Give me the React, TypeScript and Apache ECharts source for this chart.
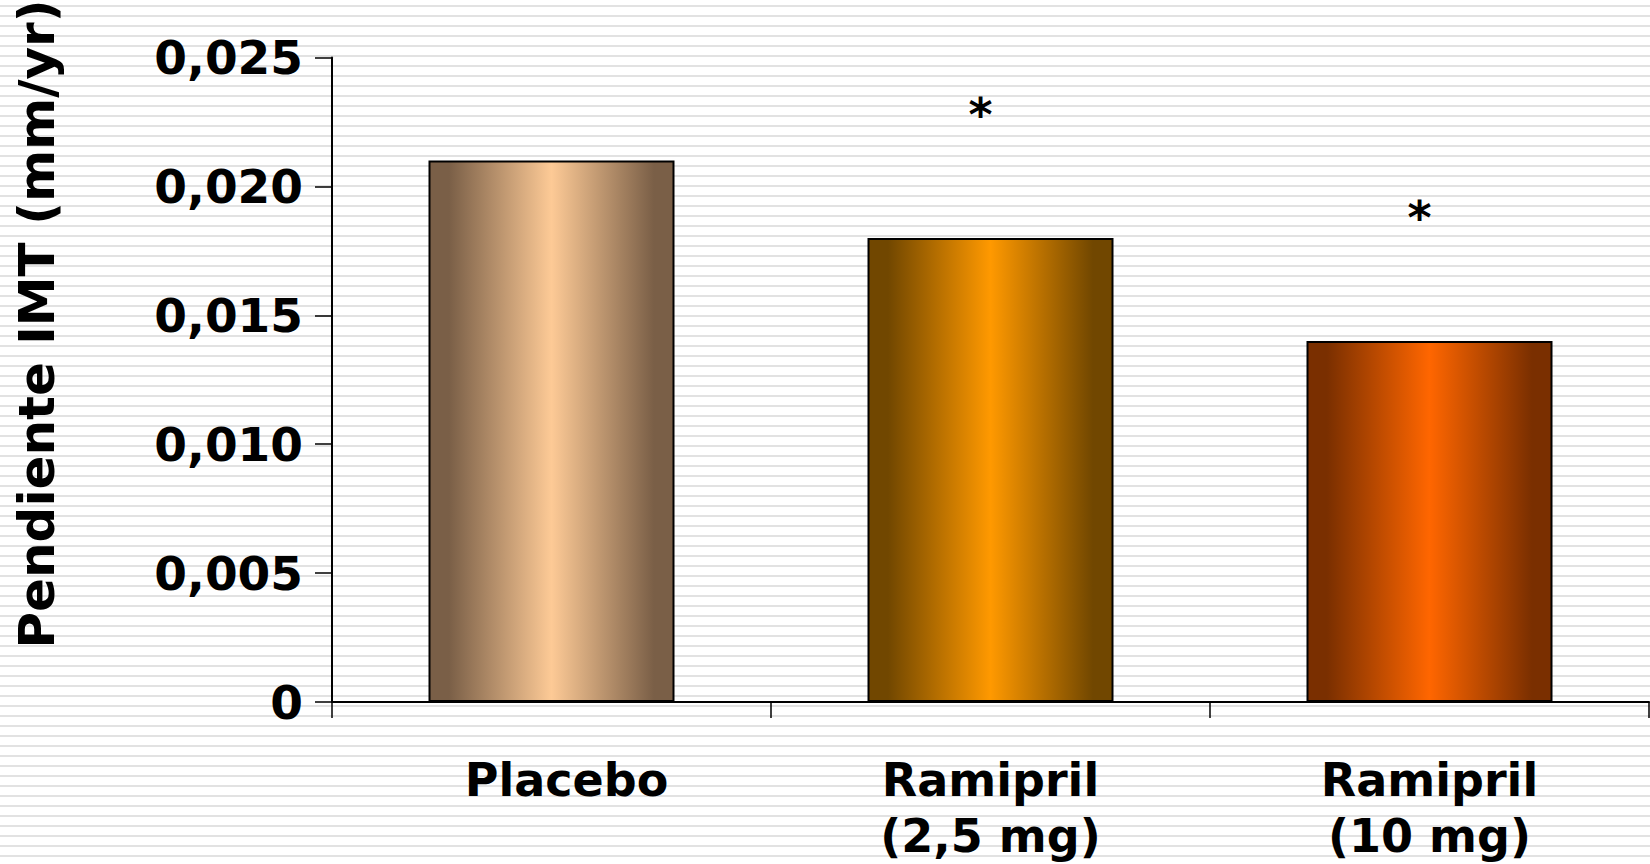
import React, { useEffect, useRef } from "react";
import * as echarts from "echarts";

// Treatment groups and mean IMT progression slope (mm/yr)
const categories = ["Placebo", "Ramipril\n(2,5 mg)", "Ramipril\n(10 mg)"];
const slopes = [0.021, 0.018, 0.014];
const significance = ["", "*", "*"];
const yTicks = { min: 0, max: 0.025, interval: 0.005 };
const yTitle = "Pendiente IMT (mm/yr)";

// Edge / centre colours of each cylinder-like bar
const barEdges = ["#7a5f47", "#714700", "#7a2f00"];
const barCentres = ["#fdca96", "#ff9900", "#ff6600"];

const FONT = "DejaVu Sans";

function formatTick(v: number): string {
  if (v === 0) return "0";
  return v.toFixed(3).replace(".", ",");
}

export default function App() {
  const ref = useRef<HTMLDivElement>(null);

  useEffect(() => {
    if (!ref.current) return;
    const chart = echarts.init(ref.current, undefined, { renderer: "svg" });

    const data = slopes.map((v, i) => ({
      value: v,
      itemStyle: {
        color: new echarts.graphic.LinearGradient(0, 0, 1, 0, [
          { offset: 0, color: barEdges[i] },
          { offset: 0.08, color: barEdges[i] },
          { offset: 0.5, color: barCentres[i] },
          { offset: 0.92, color: barEdges[i] },
          { offset: 1, color: barEdges[i] },
        ]),
      },
    }));

    chart.setOption({
      animation: false,
      backgroundColor: "transparent",
      grid: { left: 332, right: 1, top: 57.5, bottom: 161 },
      xAxis: {
        type: "category",
        data: categories.map((c, i) =>
          i === 0 ? { value: c, textStyle: { padding: [0, 0, 0, 30] } } : c
        ),
        axisLine: { lineStyle: { color: "#000", width: 2 } },
        axisTick: { show: true, alignWithLabel: false, length: 16, lineStyle: { color: "#000", width: 1.5 } },
        axisLabel: {
          interval: 0,
          color: "#000",
          fontFamily: FONT,
          fontWeight: "bold",
          fontSize: 46,
          lineHeight: 56,
          margin: 50,
        },
      },
      yAxis: {
        type: "value",
        min: yTicks.min,
        max: yTicks.max,
        interval: yTicks.interval,
        splitLine: { show: false },
        axisLine: { show: true, lineStyle: { color: "#000", width: 2 } },
        axisTick: { show: true, length: 17, lineStyle: { color: "#000", width: 1.5 } },
        axisLabel: {
          color: "#000",
          fontFamily: FONT,
          fontWeight: "bold",
          fontSize: 47,
          margin: 29,
          formatter: (v: number) => formatTick(v),
        },
      },
      graphic: [
        {
          type: "text",
          x: 37,
          y: 324,
          rotation: Math.PI / 2,
          style: {
            text: yTitle,
            fill: "#000",
            font: `bold 50px "${FONT}"`,
            textAlign: "center",
            textVerticalAlign: "middle",
          },
        },
      ],
      series: [
        {
          type: "bar",
          data,
          barWidth: 246,
          itemStyle: { borderColor: "#000", borderWidth: 2 },
          label: {
            show: true,
            position: "top",
            distance: 100,
            offset: [-10, 0],
            color: "#000",
            fontFamily: FONT,
            fontWeight: "bold",
            fontSize: 46,
            formatter: (p: any) => significance[p.dataIndex],
          },
        },
      ],
    });

    return () => chart.dispose();
  }, []);

  return (
    <div
      style={{
        position: "absolute",
        left: 0,
        top: 0,
        width: 1650,
        height: 864,
        background:
          "repeating-linear-gradient(to bottom, #ffffff 0px, #ffffff 5px, #e2e2e2 5px, #e2e2e2 7px, #ffffff 7px, #ffffff 10px)",
      }}
    >
      <div ref={ref} style={{ width: 1650, height: 864 }} />
    </div>
  );
}
